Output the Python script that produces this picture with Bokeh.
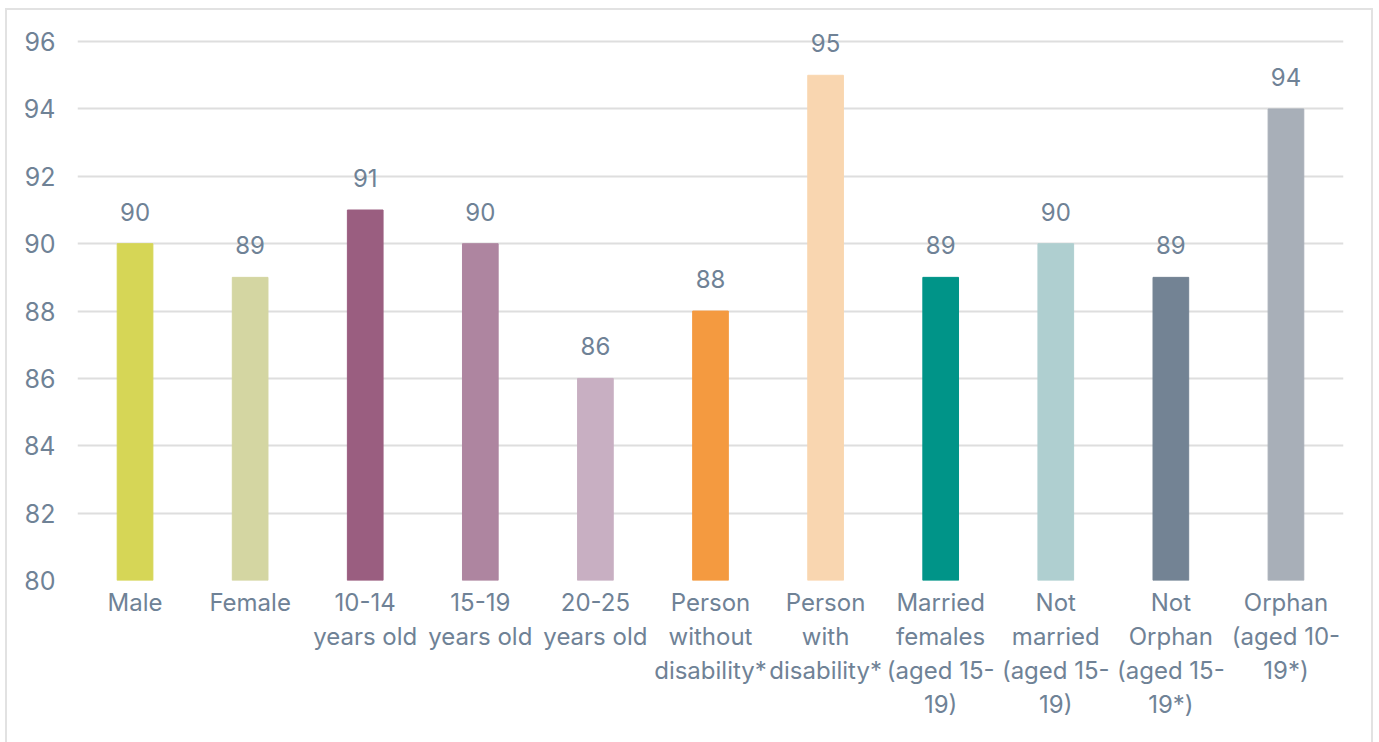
from bokeh.plotting import figure
from bokeh.models import ColumnDataSource, Range1d, FixedTicker
from bokeh.core.properties import value
from bokeh.embed import file_html
from bokeh.resources import INLINE

categories = ["Male", "Female", "10-14\nyears old", "15-19\nyears old", "20-25\nyears old",
              "Person\nwithout\ndisability*", "Person\nwith\ndisability*",
              "Married\nfemales\n(aged 15-\n19)", "Not\nmarried\n(aged 15-\n19)",
              "Not\nOrphan\n(aged 15-\n19*)", "Orphan\n(aged 10-\n19*)"]
values = [90, 89, 91, 90, 86, 88, 95, 89, 90, 89, 94]
colors = ["#d6d656", "#d4d6a2", "#9a5e80", "#ae85a0", "#c8afc2", "#f49a40",
          "#f9d6b0", "#009488", "#afcfd0", "#738394", "#a8afb8"]
y_ticks = [80, 82, 84, 86, 88, 90, 92, 94, 96]

TXT = "#6f8296"
FONT = "Inter"

src = ColumnDataSource(dict(cat=categories, val=values, color=colors,
                            lab=[str(v) for v in values]))

p = figure(x_range=categories, y_range=Range1d(80, 96.3), width=1368, height=734,
           output_backend="svg", toolbar_location=None,
           min_border_left=70, min_border_right=32, min_border_top=21, min_border_bottom=164)
p.margin = (8, 0, 0, 5)
p.styles = {"border": "2px solid #e2e2e2", "border-bottom": "none"}

p.vbar(x="cat", top="val", bottom=80, width=0.31, color="color", source=src)
p.text(x="cat", y="val", text="lab", source=src, text_align="center", text_baseline="bottom",
       y_offset=-23, text_color=TXT, text_font=value(FONT), text_font_size="24px")

p.outline_line_color = None
p.xgrid.grid_line_color = None
p.ygrid.grid_line_color = "#dedede"
p.ygrid.grid_line_width = 2
p.yaxis.ticker = FixedTicker(ticks=y_ticks)
for ax in (p.xaxis, p.yaxis):
    ax.axis_line_color = None
    ax.major_tick_line_color = None
    ax.minor_tick_line_color = None
    ax.major_tick_out = 0
    ax.minor_tick_out = 0
    ax.major_label_text_color = TXT
    ax.major_label_text_font = FONT
    ax.major_label_text_font_size = "24px"
p.yaxis.major_label_text_font_size = "25px"
p.yaxis.major_label_standoff = 22
p.xaxis.major_label_standoff = 7
p.xaxis.major_label_text_line_height = 1.18

open("out.html", "w").write(file_html(p, INLINE))
